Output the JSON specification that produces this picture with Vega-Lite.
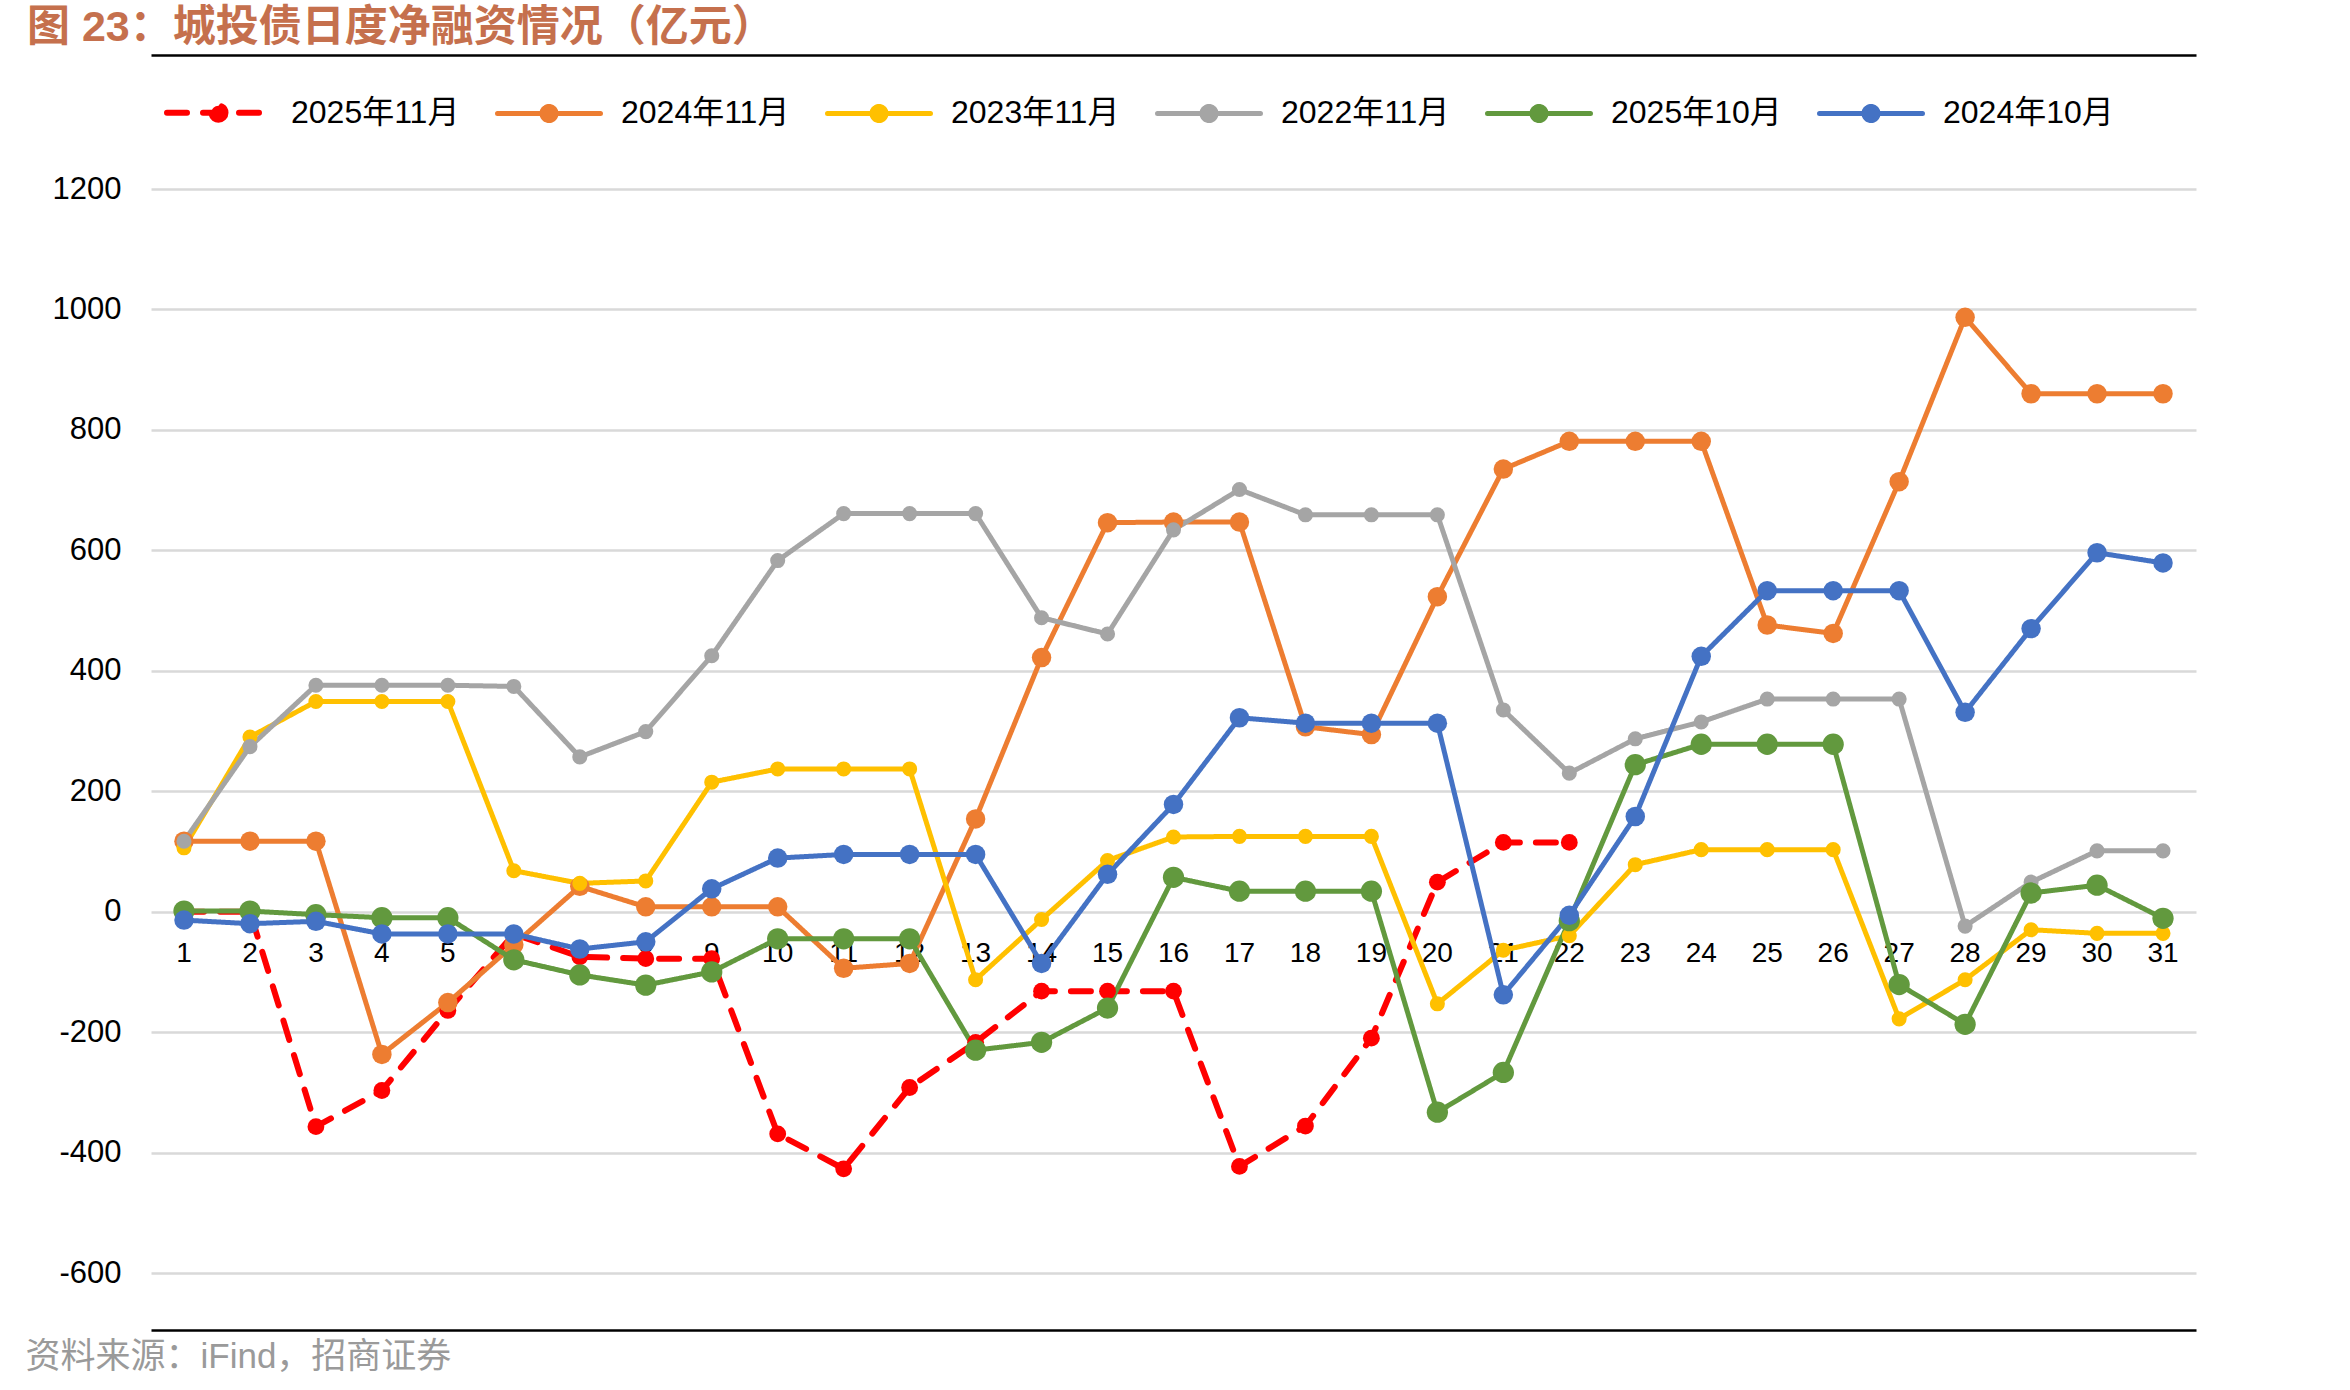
{
  "$schema": "https://vega.github.io/schema/vega-lite/v6.json",
  "width": 2045,
  "height": 1084,
  "autosize": {"type": "none"},
  "padding": {"left": 151, "top": 189, "right": 154, "bottom": 117},
  "background": "white",
  "title": {
    "text": "图 23：城投债日度净融资情况（亿元）",
    "anchor": "start",
    "frame": "group",
    "dx": -124,
    "offset": 5,
    "fontSize": 43,
    "font": "Liberation Sans, Noto Sans CJK SC",
    "fontWeight": "bold",
    "color": "#C5704D"
  },
  "data": {
    "values": [
      {"series": "2025年11月", "day": 1, "value": 0},
      {"series": "2025年11月", "day": 2, "value": 0},
      {"series": "2025年11月", "day": 3, "value": -357},
      {"series": "2025年11月", "day": 4, "value": -297},
      {"series": "2025年11月", "day": 5, "value": -164},
      {"series": "2025年11月", "day": 6, "value": -37},
      {"series": "2025年11月", "day": 7, "value": -75},
      {"series": "2025年11月", "day": 8, "value": -78},
      {"series": "2025年11月", "day": 9, "value": -78},
      {"series": "2025年11月", "day": 10, "value": -369},
      {"series": "2025年11月", "day": 11, "value": -427},
      {"series": "2025年11月", "day": 12, "value": -292},
      {"series": "2025年11月", "day": 13, "value": -217},
      {"series": "2025年11月", "day": 14, "value": -132},
      {"series": "2025年11月", "day": 15, "value": -132},
      {"series": "2025年11月", "day": 16, "value": -132},
      {"series": "2025年11月", "day": 17, "value": -423},
      {"series": "2025年11月", "day": 18, "value": -356},
      {"series": "2025年11月", "day": 19, "value": -210},
      {"series": "2025年11月", "day": 20, "value": 49},
      {"series": "2025年11月", "day": 21, "value": 115},
      {"series": "2025年11月", "day": 22, "value": 115},

      {"series": "2024年11月", "day": 1, "value": 117},
      {"series": "2024年11月", "day": 2, "value": 117},
      {"series": "2024年11月", "day": 3, "value": 117},
      {"series": "2024年11月", "day": 4, "value": -237},
      {"series": "2024年11月", "day": 5, "value": -151},
      {"series": "2024年11月", "day": 6, "value": -55},
      {"series": "2024年11月", "day": 7, "value": 42},
      {"series": "2024年11月", "day": 8, "value": 8},
      {"series": "2024年11月", "day": 9, "value": 8},
      {"series": "2024年11月", "day": 10, "value": 8},
      {"series": "2024年11月", "day": 11, "value": -94},
      {"series": "2024年11月", "day": 12, "value": -86},
      {"series": "2024年11月", "day": 13, "value": 154},
      {"series": "2024年11月", "day": 14, "value": 422},
      {"series": "2024年11月", "day": 15, "value": 646},
      {"series": "2024年11月", "day": 16, "value": 647},
      {"series": "2024年11月", "day": 17, "value": 647},
      {"series": "2024年11月", "day": 18, "value": 307},
      {"series": "2024年11月", "day": 19, "value": 294},
      {"series": "2024年11月", "day": 20, "value": 523},
      {"series": "2024年11月", "day": 21, "value": 735},
      {"series": "2024年11月", "day": 22, "value": 781},
      {"series": "2024年11月", "day": 23, "value": 781},
      {"series": "2024年11月", "day": 24, "value": 781},
      {"series": "2024年11月", "day": 25, "value": 476},
      {"series": "2024年11月", "day": 26, "value": 462},
      {"series": "2024年11月", "day": 27, "value": 714},
      {"series": "2024年11月", "day": 28, "value": 987},
      {"series": "2024年11月", "day": 29, "value": 860},
      {"series": "2024年11月", "day": 30, "value": 860},
      {"series": "2024年11月", "day": 31, "value": 860},

      {"series": "2023年11月", "day": 1, "value": 106},
      {"series": "2023年11月", "day": 2, "value": 290},
      {"series": "2023年11月", "day": 3, "value": 349},
      {"series": "2023年11月", "day": 4, "value": 349},
      {"series": "2023年11月", "day": 5, "value": 349},
      {"series": "2023年11月", "day": 6, "value": 68},
      {"series": "2023年11月", "day": 7, "value": 47},
      {"series": "2023年11月", "day": 8, "value": 51},
      {"series": "2023年11月", "day": 9, "value": 215},
      {"series": "2023年11月", "day": 10, "value": 237},
      {"series": "2023年11月", "day": 11, "value": 237},
      {"series": "2023年11月", "day": 12, "value": 237},
      {"series": "2023年11月", "day": 13, "value": -113},
      {"series": "2023年11月", "day": 14, "value": -13},
      {"series": "2023年11月", "day": 15, "value": 85},
      {"series": "2023年11月", "day": 16, "value": 124},
      {"series": "2023年11月", "day": 17, "value": 125},
      {"series": "2023年11月", "day": 18, "value": 125},
      {"series": "2023年11月", "day": 19, "value": 125},
      {"series": "2023年11月", "day": 20, "value": -153},
      {"series": "2023年11月", "day": 21, "value": -64},
      {"series": "2023年11月", "day": 22, "value": -40},
      {"series": "2023年11月", "day": 23, "value": 78},
      {"series": "2023年11月", "day": 24, "value": 103},
      {"series": "2023年11月", "day": 25, "value": 103},
      {"series": "2023年11月", "day": 26, "value": 103},
      {"series": "2023年11月", "day": 27, "value": -178},
      {"series": "2023年11月", "day": 28, "value": -113},
      {"series": "2023年11月", "day": 29, "value": -30},
      {"series": "2023年11月", "day": 30, "value": -36},
      {"series": "2023年11月", "day": 31, "value": -36},

      {"series": "2022年11月", "day": 1, "value": 117},
      {"series": "2022年11月", "day": 2, "value": 274},
      {"series": "2022年11月", "day": 3, "value": 376},
      {"series": "2022年11月", "day": 4, "value": 376},
      {"series": "2022年11月", "day": 5, "value": 376},
      {"series": "2022年11月", "day": 6, "value": 374},
      {"series": "2022年11月", "day": 7, "value": 257},
      {"series": "2022年11月", "day": 8, "value": 299},
      {"series": "2022年11月", "day": 9, "value": 425},
      {"series": "2022年11月", "day": 10, "value": 583},
      {"series": "2022年11月", "day": 11, "value": 661},
      {"series": "2022年11月", "day": 12, "value": 661},
      {"series": "2022年11月", "day": 13, "value": 661},
      {"series": "2022年11月", "day": 14, "value": 488},
      {"series": "2022年11月", "day": 15, "value": 461},
      {"series": "2022年11月", "day": 16, "value": 634},
      {"series": "2022年11月", "day": 17, "value": 701},
      {"series": "2022年11月", "day": 18, "value": 659},
      {"series": "2022年11月", "day": 19, "value": 659},
      {"series": "2022年11月", "day": 20, "value": 659},
      {"series": "2022年11月", "day": 21, "value": 335},
      {"series": "2022年11月", "day": 22, "value": 230},
      {"series": "2022年11月", "day": 23, "value": 287},
      {"series": "2022年11月", "day": 24, "value": 315},
      {"series": "2022年11月", "day": 25, "value": 353},
      {"series": "2022年11月", "day": 26, "value": 353},
      {"series": "2022年11月", "day": 27, "value": 353},
      {"series": "2022年11月", "day": 28, "value": -24},
      {"series": "2022年11月", "day": 29, "value": 49},
      {"series": "2022年11月", "day": 30, "value": 101},
      {"series": "2022年11月", "day": 31, "value": 101},

      {"series": "2025年10月", "day": 1, "value": 1},
      {"series": "2025年10月", "day": 2, "value": 1},
      {"series": "2025年10月", "day": 3, "value": -5},
      {"series": "2025年10月", "day": 4, "value": -10},
      {"series": "2025年10月", "day": 5, "value": -10},
      {"series": "2025年10月", "day": 6, "value": -80},
      {"series": "2025年10月", "day": 7, "value": -105},
      {"series": "2025年10月", "day": 8, "value": -122},
      {"series": "2025年10月", "day": 9, "value": -100},
      {"series": "2025年10月", "day": 10, "value": -45},
      {"series": "2025年10月", "day": 11, "value": -45},
      {"series": "2025年10月", "day": 12, "value": -45},
      {"series": "2025年10月", "day": 13, "value": -230},
      {"series": "2025年10月", "day": 14, "value": -217},
      {"series": "2025年10月", "day": 15, "value": -160},
      {"series": "2025年10月", "day": 16, "value": 57},
      {"series": "2025年10月", "day": 17, "value": 34},
      {"series": "2025年10月", "day": 18, "value": 34},
      {"series": "2025年10月", "day": 19, "value": 34},
      {"series": "2025年10月", "day": 20, "value": -333},
      {"series": "2025年10月", "day": 21, "value": -267},
      {"series": "2025年10月", "day": 22, "value": -15},
      {"series": "2025年10月", "day": 23, "value": 244},
      {"series": "2025年10月", "day": 24, "value": 278},
      {"series": "2025年10月", "day": 25, "value": 278},
      {"series": "2025年10月", "day": 26, "value": 278},
      {"series": "2025年10月", "day": 27, "value": -121},
      {"series": "2025年10月", "day": 28, "value": -187},
      {"series": "2025年10月", "day": 29, "value": 31},
      {"series": "2025年10月", "day": 30, "value": 44},
      {"series": "2025年10月", "day": 31, "value": -11},

      {"series": "2024年10月", "day": 1, "value": -14},
      {"series": "2024年10月", "day": 2, "value": -20},
      {"series": "2024年10月", "day": 3, "value": -16},
      {"series": "2024年10月", "day": 4, "value": -37},
      {"series": "2024年10月", "day": 5, "value": -37},
      {"series": "2024年10月", "day": 6, "value": -37},
      {"series": "2024年10月", "day": 7, "value": -62},
      {"series": "2024年10月", "day": 8, "value": -50},
      {"series": "2024年10月", "day": 9, "value": 38},
      {"series": "2024年10月", "day": 10, "value": 89},
      {"series": "2024年10月", "day": 11, "value": 95},
      {"series": "2024年10月", "day": 12, "value": 95},
      {"series": "2024年10月", "day": 13, "value": 95},
      {"series": "2024年10月", "day": 14, "value": -86},
      {"series": "2024年10月", "day": 15, "value": 62},
      {"series": "2024年10月", "day": 16, "value": 178},
      {"series": "2024年10月", "day": 17, "value": 322},
      {"series": "2024年10月", "day": 18, "value": 313},
      {"series": "2024年10月", "day": 19, "value": 313},
      {"series": "2024年10月", "day": 20, "value": 313},
      {"series": "2024年10月", "day": 21, "value": -138},
      {"series": "2024年10月", "day": 22, "value": -6},
      {"series": "2024年10月", "day": 23, "value": 158},
      {"series": "2024年10月", "day": 24, "value": 424},
      {"series": "2024年10月", "day": 25, "value": 533},
      {"series": "2024年10月", "day": 26, "value": 533},
      {"series": "2024年10月", "day": 27, "value": 533},
      {"series": "2024年10月", "day": 28, "value": 331},
      {"series": "2024年10月", "day": 29, "value": 470},
      {"series": "2024年10月", "day": 30, "value": 596},
      {"series": "2024年10月", "day": 31, "value": 579}
    ]
  },
  "encoding": {
    "x": {"field": "day", "type": "ordinal", "scale": {"type": "point", "padding": 0.5}, "axis": null},
    "y": {
      "field": "value", "type": "quantitative",
      "scale": {"domain": [-600, 1200], "nice": false, "zero": false},
      "axis": {
        "values": [-600, -400, -200, 0, 200, 400, 600, 800, 1000, 1200],
        "labelExpr": "'' + datum.value",
        "grid": true, "gridColor": "#D9D9D9", "gridWidth": 2.5,
        "domain": false, "ticks": false,
        "labelFontSize": 31, "labelPadding": 30, "labelColor": "#000000",
        "labelFont": "Liberation Sans", "title": null
      }
    },
    "color": {
      "field": "series", "type": "nominal",
      "scale": {
        "domain": ["2025年11月", "2024年11月", "2023年11月", "2022年11月", "2025年10月", "2024年10月"],
        "range": ["#FF0000", "#ED7D31", "#FFC000", "#A5A5A5", "#62993E", "#4472C4"]
      },
      "legend": {
        "orient": "none", "legendX": 13, "legendY": -131, "direction": "horizontal", "title": null,
        "padding": 0,
        "symbolType": "M-1,0H1M0.136,0A0.136,0.136,0,1,1,-0.136,0A0.136,0.136,0,1,1,0.136,0Z",
        "symbolSize": 10609, "symbolStrokeWidth": 5,
        "labelFontSize": 32, "labelFont": "Liberation Sans, Noto Sans CJK SC", "labelColor": "#000000",
        "labelLimit": 400, "labelOffset": 18, "columnPadding": 27,
        "encode": {"symbols": {"update": {"fill": {"scale": "color", "field": "value"}, "strokeCap": {"value": "round"}, "opacity": {"value": 1}}}}
      }
    }
  },
  "layer": [
    {
      "transform": [{"filter": "datum.series === '2024年11月'"}],
      "mark": {"type": "text", "baseline": "alphabetic", "align": "center", "dy": 50, "fontSize": 28, "font": "Liberation Sans"},
      "encoding": {
        "x": {
          "field": "day", "type": "ordinal",
          "scale": {"type": "point", "padding": 0.5},
          "axis": {
            "orient": "bottom", "offset": 57, "labels": false, "ticks": false, "grid": false,
            "domain": true, "domainColor": "#000000", "domainWidth": 2.5,
            "title": "资料来源：iFind，招商证券",
            "titleAnchor": "start", "titleAlign": "left", "titleX": -126, "titlePadding": 9,
            "titleFontSize": 35, "titleFontWeight": "normal", "titleColor": "#9A9A9A",
            "titleFont": "Liberation Sans, Noto Sans CJK SC"
          }
        },
        "y": {
          "datum": 0, "type": "quantitative",
          "scale": {"domain": [-600, 1200], "nice": false, "zero": false},
          "axis": {
            "values": [-600, -400, -200, 0, 200, 400, 600, 800, 1000, 1200],
            "labelExpr": "'' + datum.value",
            "grid": true, "gridColor": "#D9D9D9", "gridWidth": 2.5,
            "domain": false, "ticks": false,
            "labelFontSize": 31, "labelPadding": 30, "labelColor": "#000000",
            "labelFont": "Liberation Sans", "title": null
          }
        },
        "color": {"value": "#000000"},
        "text": {"field": "day", "type": "ordinal"}
      }
    },
    {
      "mark": {"type": "line", "strokeCap": "round", "strokeJoin": "round"},
      "encoding": {
        "x": {
          "field": "day", "type": "ordinal",
          "scale": {"type": "point", "padding": 0.5},
          "axis": {
            "orient": "top", "offset": 134, "labels": false, "ticks": false, "grid": false,
            "domain": true, "domainColor": "#000000", "domainWidth": 2.5, "title": null
          }
        },
        "strokeDash": {
          "field": "series", "type": "nominal",
          "scale": {
            "domain": ["2025年11月", "2024年11月", "2023年11月", "2022年11月", "2025年10月", "2024年10月"],
            "range": [[20, 16], [1, 0], [1, 0], [1, 0], [1, 0], [1, 0]]
          },
          "legend": {
            "orient": "none", "legendX": 13, "legendY": -131, "direction": "horizontal", "title": null,
            "padding": 0,
            "symbolType": "M-1,0H1M0.136,0A0.136,0.136,0,1,1,-0.136,0A0.136,0.136,0,1,1,0.136,0Z",
            "symbolSize": 10609, "symbolStrokeWidth": 5,
            "labelFontSize": 32, "labelFont": "Liberation Sans, Noto Sans CJK SC", "labelColor": "#000000",
            "labelLimit": 400, "labelOffset": 18, "columnPadding": 27,
            "encode": {"symbols": {"update": {"fill": {"scale": "color", "field": "value"}, "strokeCap": {"value": "round"}, "opacity": {"value": 1}}}}
          }
        },
        "strokeWidth": {
          "field": "series", "type": "nominal",
          "scale": {
            "type": "ordinal",
            "domain": ["2025年11月", "2024年11月", "2023年11月", "2022年11月", "2025年10月", "2024年10月"],
            "range": [6, 5, 5, 5, 5, 5]
          },
          "legend": null
        }
      }
    },
    {
      "transform": [{"filter": "datum.series === '2025年11月'"}],
      "mark": {"type": "point", "filled": true, "opacity": 1, "shape": "circle", "size": 283}
    },
    {
      "transform": [{"filter": "datum.series === '2024年11月'"}],
      "mark": {"type": "point", "filled": true, "opacity": 1, "shape": "circle", "size": 380}
    },
    {
      "transform": [{"filter": "datum.series === '2023年11月'"}],
      "mark": {"type": "point", "filled": true, "opacity": 1, "shape": "circle", "size": 227}
    },
    {
      "transform": [{"filter": "datum.series === '2022年11月'"}],
      "mark": {"type": "point", "filled": true, "opacity": 1, "shape": "circle", "size": 227}
    },
    {
      "transform": [{"filter": "datum.series === '2025年10月'"}],
      "mark": {"type": "point", "filled": true, "opacity": 1, "shape": "circle", "size": 452}
    },
    {
      "transform": [{"filter": "datum.series === '2024年10月'"}],
      "mark": {"type": "point", "filled": true, "opacity": 1, "shape": "circle", "size": 380}
    }
  ],
  "resolve": {"axis": {"x": "independent"}},
  "config": {
    "view": {"stroke": null},
    "axis": {"labelFont": "Liberation Sans"}
  }
}
